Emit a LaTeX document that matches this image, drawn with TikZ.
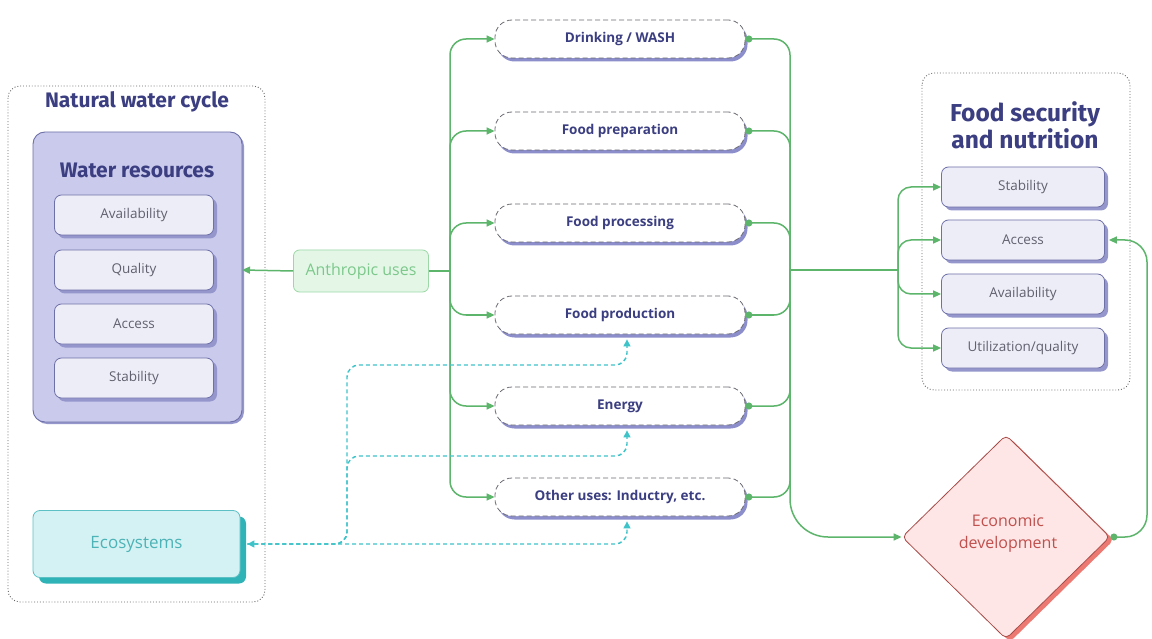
\documentclass[tikz,border=0pt]{standalone}
\usepackage{fontspec}
\setmainfont{Fira Sans}
\newfontfamily\labelfont{Open Sans}
\usetikzlibrary{arrows.meta,shapes.geometric,shadows}

\definecolor{navy}{HTML}{3B3E80}
\definecolor{lav}{HTML}{C9CAEC}
\definecolor{lavline}{HTML}{6E70A8}
\definecolor{subfill}{HTML}{EDEDF8}
\definecolor{subshadow}{HTML}{9597CC}
\definecolor{grn}{HTML}{5DB56C}
\definecolor{cyn}{HTML}{3EC3C9}
\definecolor{ecofill}{HTML}{D4F2F4}
\definecolor{ecoline}{HTML}{5CC0C4}
\definecolor{ecoshadow}{HTML}{2FB3B6}
\definecolor{ecotext}{HTML}{4DB3B6}
\definecolor{anfill}{HTML}{E4F7E7}
\definecolor{anline}{HTML}{9BD8A6}
\definecolor{antext}{HTML}{7CC88B}
\definecolor{labgray}{HTML}{60606E}
\definecolor{dfill}{HTML}{FDE6E5}
\definecolor{dline}{HTML}{A84B48}
\definecolor{dshadow}{HTML}{EC7A72}
\definecolor{dtext}{HTML}{C0504D}
\definecolor{pillshadow}{HTML}{8C8ECB}
\definecolor{pillline}{HTML}{6A6A72}

\tikzset{
  groupbox/.style={draw=gray!80!black, dotted, line width=0.9pt, rounded corners=12},
  grouptitle/.style={text=navy, font=\bfseries\fontsize{21}{24}\selectfont, align=center},
  subbox/.style={draw=lavline, fill=subfill, rounded corners=7, minimum width=159pt,
    minimum height=40pt, inner sep=0pt, line width=0.8pt, text=labgray,
    font=\labelfont\fontsize{13.5}{15}\selectfont,
    general shadow={shadow xshift=3.5pt, shadow yshift=-3.5pt, fill=subshadow}},
  usepill/.style={draw=pillline, dash pattern=on 5pt off 3pt, line width=0.8pt, fill=white,
    rounded corners=17, minimum width=250pt, minimum height=38pt, inner sep=0pt,
    text=navy, font=\labelfont\bfseries\fontsize{13.5}{15}\selectfont,
    general shadow={shadow xshift=2.5pt, shadow yshift=-3.5pt, fill=pillshadow}},
  gline/.style={grn, line width=1.5pt, rounded corners=16},
  garrow/.style={-{Triangle[length=8pt,width=7pt]}},
  gdot/.style={{Circle[length=7pt]}-},
  gdotarrow/.style={{Circle[length=7pt]}-{Triangle[length=8pt,width=7pt]}},
  cline/.style={cyn, line width=1.4pt, dash pattern=on 4pt off 3pt, rounded corners=12},
  cboth/.style={{Triangle[length=7pt,width=7pt]}-{Triangle[length=7pt,width=7pt]}},
  cend/.style={-{Triangle[length=7pt,width=7pt]}}
}

\begin{document}
\begin{tikzpicture}[x=1pt,y=-1pt]
  \useasboundingbox[fill=white] (0,0) rectangle (1152,639);

  % ---- natural water cycle ----
  \draw[groupbox] (8,86) rectangle (265,602);
  \node[grouptitle] (nwc) at (137,102) {Natural water cycle};
  \draw[draw=lavline, fill=lav, line width=0.9pt, rounded corners=12,
        general shadow={shadow xshift=2pt, shadow yshift=-2pt, fill=subshadow}]
        (33,132) rectangle (242,422);
  \node[grouptitle] (wr) at (137,170) {Water resources};
  \coordinate (wrE) at (242,270);
  \node[subbox] (wav) at (134,215) {Availability};
  \node[subbox] (wqu) at (134,270) {Quality};
  \node[subbox] (wac) at (134,324) {Access};
  \node[subbox] (wst) at (134,378) {Stability};

  \node[draw=ecoline, fill=ecofill, rounded corners=7, line width=0.8pt,
        minimum width=207pt, minimum height=67pt, inner sep=0pt,
        text=ecotext, font=\labelfont\fontsize{17}{19}\selectfont,
        general shadow={shadow xshift=6pt, shadow yshift=-6pt, fill=ecoshadow}]
        (eco) at (136.5,544) {Ecosystems};

  % ---- anthropic uses ----
  \node[draw=anline, fill=anfill, rounded corners=6, line width=0.8pt,
        minimum width=135pt, minimum height=42pt, inner sep=0pt,
        text=antext, font=\labelfont\fontsize{16}{18}\selectfont] (anthro) at (361,271) {Anthropic uses};

  % ---- uses ----
  \node[usepill] (drink) at (620,39)  {Drinking / WASH};
  \node[usepill] (prep)  at (620,131) {Food preparation};
  \node[usepill] (proc)  at (620,223) {Food processing};
  \node[usepill] (prod)  at (620,315) {Food production};
  \node[usepill] (ener)  at (620,406) {Energy};
  \node[usepill] (other) at (620,497) {Other uses: Inductry, etc.};

  % ---- food security and nutrition ----
  \draw[groupbox] (922,73) rectangle (1130,390);
  \node[grouptitle, font=\bfseries\fontsize{24.5}{27}\selectfont] (fsn) at (1025,125) {Food security\\and nutrition};
  \node[subbox, minimum width=163pt] (fst) at (1023,187) {Stability};
  \node[subbox, minimum width=163pt] (fac) at (1023,240) {Access};
  \node[subbox, minimum width=163pt] (fav) at (1023,294) {Availability};
  \node[subbox, minimum width=163pt] (fut) at (1023,348) {Utilization/quality};

  % ---- economic development ----
  \node[diamond, aspect=1, minimum width=208pt, minimum height=204pt, inner sep=0pt,
        draw=dline, fill=dfill, line width=0.8pt, rounded corners=5,
        general shadow={shadow xshift=4pt, shadow yshift=-3pt, fill=dshadow}]
        (econ) at (1006,537) {};
  \node[text=dtext, font=\labelfont\fontsize{16}{22}\selectfont, align=center] (econtxt) at (1008,534)
        {Economic\\development};

  % ---- junctions ----
  \coordinate (jl) at (450,271);
  \coordinate (jr) at (790,270);
  \coordinate (jf) at (898,270);

  % anthropic uses feeding the water resources and the uses
  \draw[gline, garrow] (anthro.west) -- (wrE);
  \draw[gline] (anthro.east) -- (jl);
  \foreach \n in {drink,prep,proc,prod,ener,other}{
    \draw[gline, garrow] (jl) -- (jl |- \n.west) -- (\n.west);
    \draw[gline, gdot] (\n.east) -- (jr |- \n.east) -- (jr);
  }

  % towards food security and nutrition
  \draw[gline] (jr) -- (jf);
  \foreach \n in {fst,fac,fav,fut}{
    \draw[gline, rounded corners=13, garrow] (jf) -- (jf |- \n.west) -- (\n.west);
  }

  % towards economic development and back to access
  \draw[gline, rounded corners=38, garrow] (jr) -- (jr |- econ.west) -- (econ.west);
  \draw[gline, rounded corners=22, gdotarrow]
        (econ.east) -- (1147,537) -- (1147,240) -- ([xshift=4pt]fac.east);

  % ecosystems links
  \coordinate (ev) at (347,544);
  \draw[cline, cboth] ([xshift=7pt]eco.east) -- (627,544) -- ([xshift=7pt,yshift=-5pt]other.south);
  \draw[cline, cend] ([xshift=7pt]eco.east) -- (ev) -- (347,365) -- (627,365) -- ([xshift=7pt,yshift=-5pt]prod.south);
  \draw[cline, cend] ([xshift=7pt]eco.east) -- (ev) -- (347,456) -- (627,456) -- ([xshift=7pt,yshift=-5pt]ener.south);
\end{tikzpicture}
\end{document}
